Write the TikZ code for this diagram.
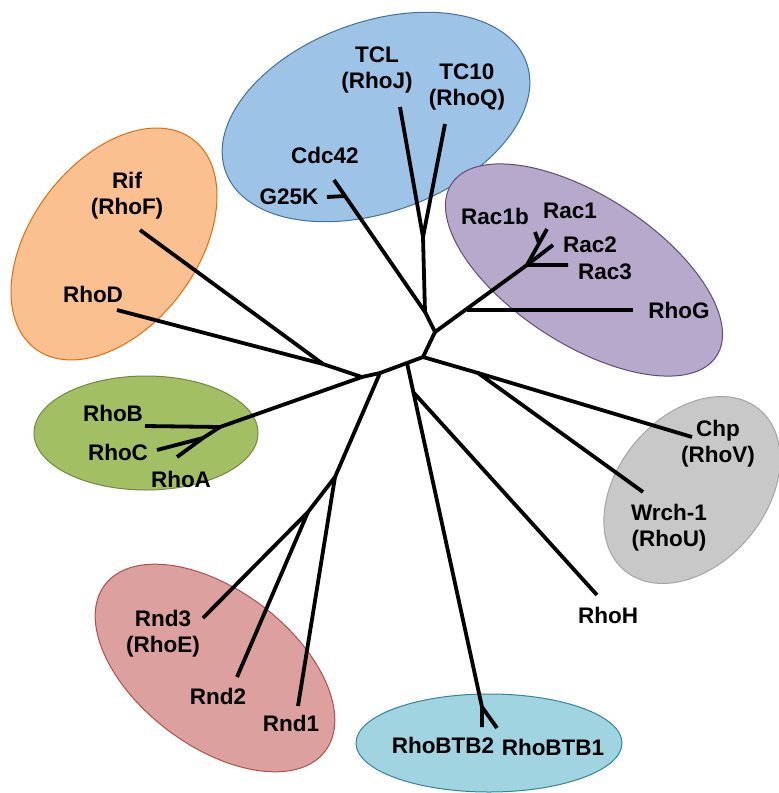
\documentclass[tikz,border=0pt]{standalone}
\usepackage{fontspec}
\setmainfont{Liberation Sans}
\definecolor{cdcfill}{HTML}{9DC3E6}
\definecolor{cdcline}{HTML}{41719C}
\definecolor{racfill}{HTML}{B7A9CC}
\definecolor{racline}{HTML}{604A7B}
\definecolor{riffill}{HTML}{FAC090}
\definecolor{rifline}{HTML}{E46C0A}
\definecolor{rhofill}{HTML}{A3BF63}
\definecolor{rholine}{HTML}{71893F}
\definecolor{chpfill}{HTML}{C8C8C8}
\definecolor{chpline}{HTML}{A5A5A5}
\definecolor{rndfill}{HTML}{DCA09E}
\definecolor{rndline}{HTML}{B0504C}
\definecolor{btbfill}{HTML}{9FD4E0}
\definecolor{btbline}{HTML}{31859C}
\tikzset{
  branch/.style={line width=3.8pt, line join=round},
  group/.style={line width=1pt},
  lbl/.style={font=\fontsize{22.5}{26}\selectfont\bfseries, align=center, inner sep=0pt},
}

\begin{document}
\begin{tikzpicture}[x=1pt,y=-1pt]
  \useasboundingbox (0,0) rectangle (779,793);
  %Families
  \draw[group, fill=cdcfill, draw=cdcline, rotate around={20:(376,117)}] (376,117) ellipse [x radius=160pt, y radius=95pt];
  \draw[group, fill=racfill, draw=racline, rotate around={-33:(584,270)}] (584,270) ellipse [x radius=158pt, y radius=74pt];
  \draw[group, fill=riffill, draw=rifline, rotate around={53:(114,244)}] (114,244) ellipse [x radius=131pt, y radius=83pt];
  \draw[group, fill=rhofill, draw=rholine] (146,433) ellipse [x radius=112pt, y radius=57pt];
  \draw[group, fill=chpfill, draw=chpline, rotate around={50:(692,490)}] (692,490) ellipse [x radius=105pt, y radius=74pt];
  \draw[group, fill=rndfill, draw=rndline, rotate around={-37:(215,668)}] (215,668) ellipse [x radius=138pt, y radius=78pt];
  \draw[group, fill=btbfill, draw=btbline] (489,743) ellipse [x radius=133pt, y radius=49pt];

  %Inner nodes
  \coordinate (nA) at (423,357);
  \coordinate (nB) at (435,332);
  \coordinate (nCdc) at (425,312);
  \coordinate (nTC) at (423,237);
  \coordinate (nG25K) at (345,196);
  \coordinate (nRhoG) at (467,310);
  \coordinate (nRac) at (527,265);
  \coordinate (nRac1) at (539,243);
  \coordinate (nChp) at (478,373);
  \coordinate (nD) at (407,363);
  \coordinate (nE) at (414,393);
  \coordinate (nBTB) at (482,707);
  \coordinate (nF) at (380,373);
  \coordinate (nRnd) at (335,477);
  \coordinate (nRnd23) at (308,512);
  \coordinate (nC) at (362,377);
  \coordinate (nRif) at (323,364);
  \coordinate (nRhoB) at (220,427);
  \coordinate (nRhoA) at (203,438);
  %Leaves
  \coordinate (lTCL) at (400,107);
  \coordinate (lTC10) at (445,124);
  \coordinate (lCdc42) at (334,180);
  \coordinate (lG25K) at (327,197);
  \coordinate (lRac1) at (547,229);
  \coordinate (lRac1b) at (535,232);
  \coordinate (lRac2) at (553,245);
  \coordinate (lRac3) at (568,265);
  \coordinate (lRhoG) at (633,310);
  \coordinate (lChp) at (692,437);
  \coordinate (lWrch) at (643,492);
  \coordinate (lRhoH) at (597,595);
  \coordinate (lBTB2) at (482,727);
  \coordinate (lBTB1) at (497,728);
  \coordinate (lRnd1) at (298,706);
  \coordinate (lRnd2) at (237,677);
  \coordinate (lRnd3) at (203,618);
  \coordinate (lRif) at (140,230);
  \coordinate (lRhoD) at (117,310);
  \coordinate (lRhoB) at (145,426);
  \coordinate (lRhoC) at (157,450);
  \coordinate (lRhoA) at (177,457);

  %Backbone
  \draw[branch] (nB)--(nA)--(nD)--(nF)--(nC)--(nRhoB);
  %Cdc42 group
  \draw[branch] (nB)--(nCdc)--(nTC)--(lTCL);
  \draw[branch] (nTC)--(lTC10);
  \draw[branch] (nCdc)--(lCdc42);
  \draw[branch] (nG25K)--(lG25K);
  %Rac group
  \draw[branch] (nB)--(nRac)--(lRac3);
  \draw[branch] (nRhoG)--(lRhoG);
  \draw[branch] (nRac)--(lRac2);
  \draw[branch] (nRac)--(lRac1);
  \draw[branch] (nRac1)--(lRac1b);
  %Chp and Wrch-1
  \draw[branch] (nA)--(nChp)--(lChp);
  \draw[branch] (nChp)--(lWrch);
  %RhoH and RhoBTB
  \draw[branch] (nD)--(nBTB)--(lBTB2);
  \draw[branch] (nBTB)--(lBTB1);
  \draw[branch] (nE)--(lRhoH);
  %Rnd group
  \draw[branch] (nF)--(nRnd)--(lRnd1);
  \draw[branch] (nRnd)--(nRnd23)--(lRnd3);
  \draw[branch] (nRnd23)--(lRnd2);
  %Rif and RhoD
  \draw[branch] (nC)--(nRif)--(lRhoD);
  \draw[branch] (nRif)--(lRif);
  %RhoA, RhoB, RhoC
  \draw[branch] (nRhoB)--(lRhoB);
  \draw[branch] (nRhoB)--(nRhoA)--(lRhoC);
  \draw[branch] (nRhoA)--(lRhoA);

  %Names
  \node[lbl] (tTCL) at (377,70) {TCL\\(RhoJ)};
  \node[lbl] (tTC10) at (467,87) {TC10\\(RhoQ)};
  \node[lbl] (tCdc42) at (325,155) {Cdc42};
  \node[lbl] (tG25K) at (289,197) {G25K};
  \node[lbl] (tRac1b) at (495,216) {Rac1b};
  \node[lbl] (tRac1) at (570,211) {Rac1};
  \node[lbl] (tRac2) at (590,245) {Rac2};
  \node[lbl] (tRac3) at (605,272) {Rac3};
  \node[lbl] (tRhoG) at (679,310) {RhoG};
  \node[lbl] (tRif) at (127,196) {Rif\\(RhoF)};
  \node[lbl] (tRhoD) at (93,294) {RhoD};
  \node[lbl] (tRhoB) at (113,413) {RhoB};
  \node[lbl] (tRhoC) at (118,452) {RhoC};
  \node[lbl] (tRhoA) at (181,479) {RhoA};
  \node[lbl] (tChp) at (718,444) {Chp\\(RhoV)};
  \node[lbl] (tWrch) at (669,528) {Wrch-1\\(RhoU)};
  \node[lbl] (tRhoH) at (608,615) {RhoH};
  \node[lbl] (tRnd3) at (163,634) {Rnd3\\(RhoE)};
  \node[lbl] (tRnd2) at (218,696) {Rnd2};
  \node[lbl] (tRnd1) at (291,723) {Rnd1};
  \node[lbl] (tBTB2) at (443,745) {RhoBTB2};
  \node[lbl] (tBTB1) at (553,747) {RhoBTB1};
\end{tikzpicture}
\end{document}
